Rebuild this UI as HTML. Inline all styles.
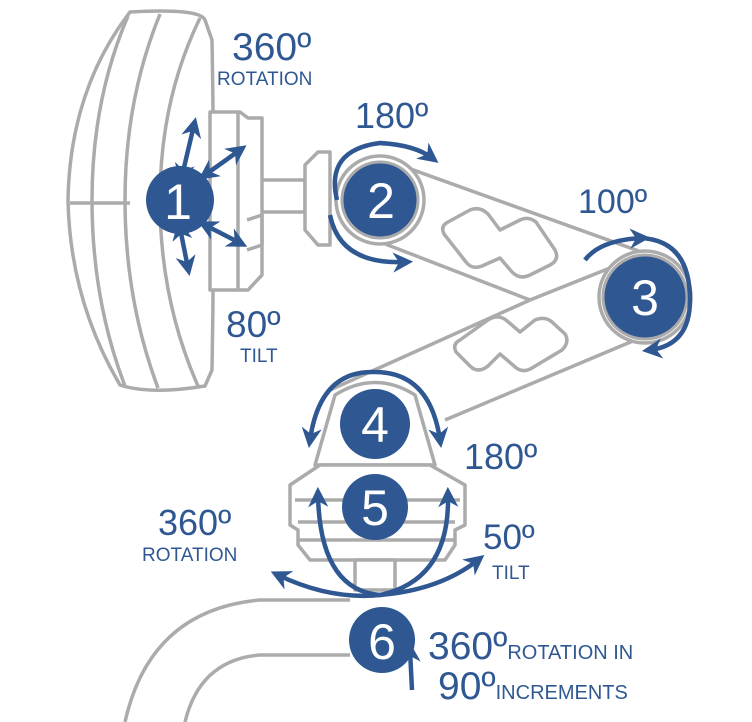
<!DOCTYPE html>
<html><head><style>
html,body{margin:0;padding:0;background:#fff;}
svg{display:block;}
text{font-family:"Liberation Sans",sans-serif;fill:#2f5893;}
</style></head><body>
<svg width="752" height="722" viewBox="0 0 752 722" xmlns="http://www.w3.org/2000/svg">
<defs>
<marker id="ah" viewBox="0 0 10 10" refX="6" refY="5" markerWidth="4.5" markerHeight="4.5" orient="auto-start-reverse">
<path d="M0,0 L10,5 L0,10 L3,5 z" fill="#2f5893"/></marker>
</defs>
<g fill="none" stroke="#ababab" stroke-width="3.5" stroke-linejoin="round">
<path d="M130,12 Q200,8 205,20 L212,40 Q215,200 212,370 L205,386 Q150,395 120,385 Q70,300 68,200 Q70,90 130,12 Z" fill="#fff"/>
<path d="M128,16 Q92,100 92,200 Q92,300 125,386"/>
<path d="M160,14 Q125,100 125,200 Q125,300 158,388"/>
<path d="M200,18 Q160,100 160,200 Q160,300 198,386"/>
<line x1="70" y1="203" x2="130" y2="203"/>
<path d="M210,112 L240,112 L248,118 L262,118 L262,275 L248,290 L210,290 Z" fill="#fff"/>
<line x1="238" y1="112" x2="238" y2="290"/>
<path d="M247,220 L262,215 L262,245 L247,250"/>
<path d="M262,180 L305,180 L305,212 L262,212"/>
<path d="M305,165 L318,152 L330,152 L330,245 L318,245 L305,230 Z" fill="#fff"/>
<path d="M380,158 L650,255" />
<path d="M375,240 L530,300"/>
<path d="M530,300 L610,268"/>
<path d="M330,390 L530,300"/>
<path d="M445,420 L640,338"/>
<circle cx="380" cy="200" r="44" fill="#fff"/>
<circle cx="645" cy="297" r="46" fill="#fff"/>
<path d="M448,222 L470,210 Q480,206 488,214 L500,230 L520,220 Q528,216 536,222 L555,250 Q560,260 550,265 L530,275 Q520,280 512,272 L500,258 L482,266 Q472,270 466,262 L444,234 Q440,226 448,222 Z"/>
<path d="M460,340 L488,320 Q498,314 506,320 L520,332 L535,320 Q545,316 552,322 L565,334 Q570,342 562,350 L532,368 Q522,374 514,366 L500,354 L488,366 Q478,374 470,366 L456,352 Q452,344 460,340 Z"/>
<path d="M335,395 Q375,370 415,395 L435,465 L315,465 Z" fill="#fff"/>
<path d="M320,465 L430,465 L465,485 L465,525 L455,530 L455,545 L445,560 L310,560 L298,545 L298,530 L290,525 L290,485 Z" fill="#fff"/>
<line x1="295" y1="500" x2="460" y2="500"/>
<line x1="298" y1="522" x2="455" y2="522"/>
<line x1="298" y1="540" x2="455" y2="540"/>
<rect x="355" y="560" width="40" height="30" fill="#fff"/>
<path d="M125,722 Q150,610 260,600 L350,600"/>
<path d="M185,722 Q200,660 260,655 L350,655"/>
</g>
<g fill="#2f5893">
<circle cx="180" cy="200" r="34"/>
<circle cx="380" cy="200" r="38" stroke="#ababab" stroke-width="3"/>
<circle cx="645" cy="297" r="42" stroke="#ababab" stroke-width="3"/>
<circle cx="375" cy="424" r="35"/>
<circle cx="375" cy="507" r="33"/>
<circle cx="382" cy="640" r="33"/>
</g>
<g font-size="50" text-anchor="middle">
<text x="178" y="219" style="fill:#fff">1</text>
<text x="381" y="218" style="fill:#fff">2</text>
<text x="645" y="315" style="fill:#fff">3</text>
<text x="375" y="442" style="fill:#fff">4</text>
<text x="375" y="525" style="fill:#fff">5</text>
<text x="382" y="659" style="fill:#fff">6</text>
</g>
<g fill="none" stroke="#2f5893" stroke-width="4.5" marker-end="url(#ah)" marker-start="url(#ah)">
<line x1="182" y1="176" x2="194" y2="125"/>
<line x1="205" y1="175" x2="240" y2="150"/>
<line x1="180" y1="228" x2="188" y2="268"/>
<line x1="205" y1="225" x2="240" y2="243"/>
<path d="M337,200 Q325,150 380,143 Q415,145 432,158" marker-start="none"/>
<path d="M330,215 Q340,265 405,262" marker-start="none"/>
<path d="M640,238 Q690,240 690,300 Q690,345 650,350" marker-start="none"/>
<path d="M642,238 Q600,240 585,260" marker-end="none" marker-start="url(#ah)"/>
<path d="M310,440 Q320,370 375,372 Q430,372 440,440"/>
<path d="M318,495 Q320,590 380,595 Q450,580 448,495"/>
<path d="M278,575 Q330,600 380,595 Q440,590 478,560"/>
<line x1="412" y1="690" x2="410" y2="650" marker-start="none"/>
</g>
<g>
<text x="232" y="60" font-size="39">360º</text>
<text x="217" y="85" font-size="19">ROTATION</text>
<text x="355" y="128" font-size="36">180º</text>
<text x="578" y="213" font-size="34">100º</text>
<text x="226" y="337" font-size="37">80º</text>
<text x="240" y="362" font-size="19">TILT</text>
<text x="464" y="469" font-size="36">180º</text>
<text x="158" y="535" font-size="36">360º</text>
<text x="142" y="561" font-size="19">ROTATION</text>
<text x="483" y="549" font-size="35">50º</text>
<text x="492" y="579" font-size="19">TILT</text>
<text x="428" y="659" font-size="39">360º<tspan font-size="20">ROTATION IN</tspan></text>
<text x="438" y="699" font-size="39">90º<tspan font-size="20">INCREMENTS</tspan></text>
</g>
</svg>
</body></html>
